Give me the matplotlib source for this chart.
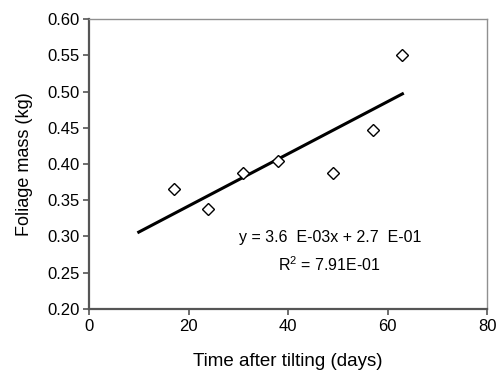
import numpy as np
import matplotlib.pyplot as plt

plt.rcParams['font.family'] = ['Liberation Sans', 'DejaVu Sans']

# Data
days = [17, 24, 31, 38, 49, 57, 63]
foliage = [0.365, 0.338, 0.387, 0.404, 0.387, 0.447, 0.550]

# Linear trend as printed on the chart
slope = 3.6e-3
intercept = 2.7e-1
trend_x = np.array([10, 63])

fig = plt.figure(figsize=(5, 3.74), dpi=100)
ax = fig.add_axes([0.178, 0.174, 0.796, 0.775])

ax.plot(days, foliage, linestyle='none', marker='D', ms=6.5,
        mfc='white', mec='black', mew=1.0, zorder=3)
ax.plot(trend_x, slope * trend_x + intercept, color='black', lw=2.2, zorder=2)

ax.text(0.605, 0.245, 'y = 3.6  E-03x + 2.7  E-01', transform=ax.transAxes,
        ha='center', va='center', fontsize=11.5)
ax.text(0.605, 0.152, r'R$^\mathregular{2}$ = 7.91E-01', transform=ax.transAxes,
        ha='center', va='center', fontsize=11.5)

ax.set_xlim(0, 80)
ax.set_ylim(0.20, 0.60)
ax.set_xticks([0, 20, 40, 60, 80])
ax.set_yticks(np.arange(0.20, 0.601, 0.05))
ax.yaxis.set_major_formatter(plt.FormatStrFormatter('%.2f'))

for s in ['left', 'bottom']:
    ax.spines[s].set_color('#555555')
    ax.spines[s].set_linewidth(1.6)
for s in ['top', 'right']:
    ax.spines[s].set_color('#909090')
    ax.spines[s].set_linewidth(1.0)

ax.tick_params(direction='out', length=4, width=1.2, color='#555555',
               labelsize=12, pad=3)

ax.set_xlabel('Time after tilting (days)', fontsize=13.5, labelpad=14)
ax.set_ylabel('Foliage mass (kg)', fontsize=13, labelpad=10)

fig.savefig('out.png', dpi=100)
